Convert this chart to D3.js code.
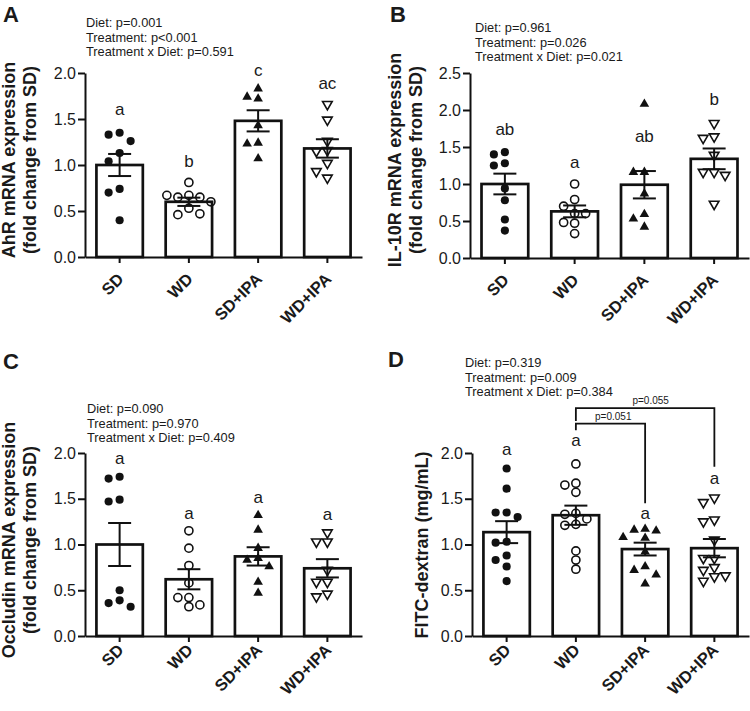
<!DOCTYPE html>
<html><head><meta charset="utf-8">
<script src="https://cdn.jsdelivr.net/npm/d3@7"></script>
<style>body{margin:0;background:#fff}svg{display:block}text{font-family:"Liberation Sans",Arial,sans-serif;fill:#1a1a1a}</style>
</head><body><svg id="c" width="750" height="711"></svg>
<script>
const groups = ["SD","WD","SD+IPA","WD+IPA"];

// Panel A – AhR
const aPoints = [
  [1.35,1.33,1.26,1.13,1.04,0.74,0.70,0.40],
  [0.81,0.67,0.65,0.65,0.67,0.60,0.53,0.46,0.47],
  [1.83,1.74,1.72,1.43,1.24,1.23,1.07],
  [1.66,1.49,1.26,1.16,1.15,1.02,0.93,0.86]];
const aMeans = [1.00,0.60,1.48,1.18];
const aSems = [0.12,0.045,0.115,0.10];
const aLetters = ["a","b","c","ac"];
const aLetterAt = [1.54,0.98,1.97,1.83];
const aStats = ["Diet: p=0.001","Treatment: p<0.001","Treatment x Diet: p=0.591"];
const aTicks = [0,0.5,1.0,1.5,2.0];

// Panel B – IL-10R
const bPoints = [
  [1.43,1.40,1.28,1.25,0.94,0.78,0.52,0.37],
  [1.00,0.79,0.70,0.60,0.60,0.48,0.47,0.33],
  [2.08,1.16,1.16,0.87,0.59,0.53,0.42],
  [1.82,1.64,1.62,1.39,1.16,1.16,1.12,0.73]];
const bMeans = [1.00,0.63,0.99,1.34];
const bSems = [0.14,0.08,0.185,0.14];
const bLetters = ["ab","a","ab","b"];
const bLetterAt = [1.66,1.22,1.57,2.07];
const bStats = ["Diet: p=0.961","Treatment: p=0.026","Treatment x Diet: p=0.021"];
const bTicks = [0,0.5,1.0,1.5,2.0,2.5];

// Panel C – Occludin
const cPoints = [
  [1.74,1.72,1.49,1.47,0.50,0.39,0.36,0.32],
  [1.15,0.96,0.77,0.58,0.42,0.42,0.34,0.32],
  [1.32,1.16,0.96,0.85,0.83,0.76,0.59,0.47],
  [1.13,1.03,1.03,0.72,0.59,0.59,0.46,0.43]];
const cMeans = [1.00,0.62,0.87,0.74];
const cSems = [0.235,0.11,0.10,0.10];
const cLetters = ["a","a","a","a"];
const cLetterAt = [1.88,1.28,1.45,1.27];
const cStats = ["Diet: p=0.090","Treatment: p=0.970","Treatment x Diet: p=0.409"];
const cTicks = [0,0.5,1.0,1.5,2.0];

// Panel D – FITC-dextran
const dPoints = [
  [1.83,1.61,1.35,1.35,1.30,1.03,1.02,0.88,0.83,0.76,0.60],
  [1.88,1.67,1.65,1.57,1.34,1.33,1.28,1.22,1.21,0.93,0.83,0.73],
  [1.17,1.16,1.15,1.08,1.07,0.92,0.76,0.72,0.67,0.57],
  [1.51,1.46,1.27,1.25,1.05,0.85,0.85,0.75,0.72,0.66,0.65,0.60]];
const dMeans = [1.135,1.32,0.95,0.96];
const dSems = [0.12,0.105,0.07,0.10];
const dLetters = ["a","a","a","a"];
const dLetterAt = [1.98,2.08,1.28,1.66];
const dStats = ["Diet: p=0.319","Treatment: p=0.009","Treatment x Diet: p=0.384"];
const dTicks = [0,0.5,1.0,1.5,2.0];
const dBrackets = [
  {from:"WD", to:"WD+IPA", label:"p=0.055", top:2.49, fromEnd:2.35, toEnd:1.85},
  {from:"WD", to:"SD+IPA", label:"p=0.051", top:2.32, fromEnd:2.25, toEnd:1.45}];

const svg = d3.select("#c");

const panels = [
  {tag:"A", pts:aPoints, means:aMeans, sems:aSems, letters:aLetters, letterAt:aLetterAt, stats:aStats, ticks:aTicks, ymax:2.0,
   x0:85, x1:362, yT:73, yB:257, tagX:3, tagY:22, statX:86, statY:27, ylab:["AhR mRNA expression","(fold change from SD)"], ylabX:[15,36], ylabY:160, xlabDy:23},
  {tag:"B", pts:bPoints, means:bMeans, sems:bSems, letters:bLetters, letterAt:bLetterAt, stats:bStats, ticks:bTicks, ymax:2.5,
   x0:470, x1:749, yT:73, yB:258, tagX:390, tagY:22, statX:475, statY:32, ylab:["IL-10R mRNA expression","(fold change from SD)"], ylabX:[401,422], ylabY:160, xlabDy:23},
  {tag:"C", pts:cPoints, means:cMeans, sems:cSems, letters:cLetters, letterAt:cLetterAt, stats:cStats, ticks:cTicks, ymax:2.0,
   x0:85, x1:362, yT:453, yB:636, tagX:3, tagY:369, statX:87, statY:413, ylab:["Occludin mRNA expression","(fold change from SD)"], ylabX:[15,36], ylabY:540, xlabDy:15},
  {tag:"D", pts:dPoints, means:dMeans, sems:dSems, letters:dLetters, letterAt:dLetterAt, stats:dStats, ticks:dTicks, ymax:2.0,
   x0:472, x1:749, yT:453, yB:636, tagX:388, tagY:367, statX:465, statY:367, ylab:["FITC-dextran (mg/mL)"], ylabX:[428], ylabY:545, xlabDy:15, brackets:dBrackets}
];

const symbols = [
  {type:d3.symbolCircle, size:52, fill:"#111", stroke:"none", rot:0},
  {type:d3.symbolCircle, size:52, fill:"none", stroke:"#111", rot:0},
  {type:d3.symbolTriangle, size:40, fill:"#111", stroke:"none", rot:0},
  {type:d3.symbolTriangle, size:40, fill:"none", stroke:"#111", rot:180}];

function swarm(vals, y, minDx, minDy, step) {
  const placed = [];
  const out = [];
  vals.forEach(v => {
    const py = y(v);
    let chosen = 0;
    for (let k = 0; k < 40; k++) {
      const cand = k === 0 ? 0 : (k % 2 ? -1 : 1) * Math.ceil(k / 2) * step;
      const ok = placed.every(p => Math.abs(p.y - py) >= minDy || Math.abs(p.x - cand) >= minDx);
      if (ok) { chosen = cand; break; }
    }
    placed.push({x:chosen, y:py});
    out.push({v, dx:chosen});
  });
  return out;
}

panels.forEach(P => {
  const g = svg.append("g");
  const x = d3.scaleBand().domain(groups).range([P.x0, P.x1]).paddingInner(0.33).paddingOuter(0.165);
  const y = d3.scaleLinear().domain([0, P.ymax]).range([P.yB, P.yT]);

  g.append("text").attr("x", P.tagX).attr("y", P.tagY).attr("font-size", 22).attr("font-weight", "bold").text(P.tag);

  P.stats.forEach((s, i) => g.append("text").attr("x", P.statX).attr("y", P.statY + i * 14.6).attr("font-size", 12.8).attr("fill", "#222").text(s));

  P.ylab.forEach((t, i) => g.append("text")
    .attr("transform", `translate(${P.ylabX[i]},${P.ylabY}) rotate(-90)`)
    .attr("text-anchor", "middle").attr("font-size", 18).attr("font-weight", "bold").text(t));

  g.selectAll("rect.bar").data(groups).join("rect")
    .attr("x", d => x(d)).attr("width", x.bandwidth())
    .attr("y", (d, i) => y(P.means[i])).attr("height", (d, i) => y(0) - y(P.means[i]))
    .attr("fill", "#fff").attr("stroke", "#111").attr("stroke-width", 2.7);

  groups.forEach((grp, gi) => {
    const sym = symbols[gi];
    const sw = swarm(P.pts[gi], y, 10.5, 9, 5.5);
    const cx = x(grp) + x.bandwidth() / 2;
    g.selectAll(null).data(sw).join("path")
      .attr("d", d3.symbol().type(sym.type).size(sym.size))
      .attr("transform", d => `translate(${cx + d.dx},${y(d.v)}) rotate(${sym.rot})`)
      .attr("fill", sym.fill).attr("stroke", sym.stroke).attr("stroke-width", 1.6);
  });

  groups.forEach((grp, gi) => {
    const cx = x(grp) + x.bandwidth() / 2;
    const lo = y(P.means[gi] - P.sems[gi]), hi = y(P.means[gi] + P.sems[gi]);
    const cw = 11.5;
    const eb = g.append("g").attr("stroke", "#111").attr("stroke-width", 2);
    eb.append("line").attr("x1", cx).attr("x2", cx).attr("y1", lo).attr("y2", hi);
    eb.append("line").attr("x1", cx - cw).attr("x2", cx + cw).attr("y1", lo).attr("y2", lo);
    eb.append("line").attr("x1", cx - cw).attr("x2", cx + cw).attr("y1", hi).attr("y2", hi);
  });

  g.selectAll("text.let").data(groups).join("text")
    .attr("x", d => x(d) + x.bandwidth() / 2).attr("y", (d, i) => y(P.letterAt[i]))
    .attr("text-anchor", "middle").attr("font-size", 17).text((d, i) => P.letters[i]);

  const ya = g.append("g").attr("transform", `translate(${P.x0},0)`)
    .call(d3.axisLeft(y).tickValues(P.ticks).tickFormat(d3.format(".1f")).tickSize(7).tickSizeOuter(0).tickPadding(2));
  ya.select(".domain").attr("stroke-width", 2).attr("stroke", "#111");
  ya.selectAll(".tick line").attr("stroke-width", 2).attr("stroke", "#111");
  ya.selectAll(".tick text").attr("font-size", 16).attr("font-family", "Liberation Sans, Arial, sans-serif").attr("fill", "#222");

  const xa = g.append("g").attr("transform", `translate(0,${P.yB})`)
    .call(d3.axisBottom(x).tickSize(6).tickSizeOuter(0).tickPadding(0));
  xa.select(".domain").attr("stroke-width", 2).attr("stroke", "#111");
  xa.selectAll(".tick line").attr("stroke-width", 2).attr("stroke", "#111");
  xa.selectAll(".tick text")
    .attr("font-size", 16.5).attr("font-weight", "bold").attr("font-family", "Liberation Sans, Arial, sans-serif").attr("fill", "#1a1a1a")
    .attr("text-anchor", "end").attr("dy", null).attr("y", 0)
    .attr("transform", `translate(5,${P.xlabDy}) rotate(-45)`);

  (P.brackets || []).forEach(b => {
    const xf = x(b.from) + x.bandwidth() / 2, xt = x(b.to) + x.bandwidth() / 2;
    g.append("path")
      .attr("d", `M${xf},${y(b.fromEnd)}V${y(b.top)}H${xt}V${y(b.toEnd)}`)
      .attr("fill", "none").attr("stroke", "#111").attr("stroke-width", 1.8);
    g.append("text").attr("x", xf + (xt - xf) * 0.54).attr("y", y(b.top) - 4)
      .attr("text-anchor", "middle").attr("font-size", 10).attr("fill", "#222").text(b.label);
  });
});
</script></body></html>
